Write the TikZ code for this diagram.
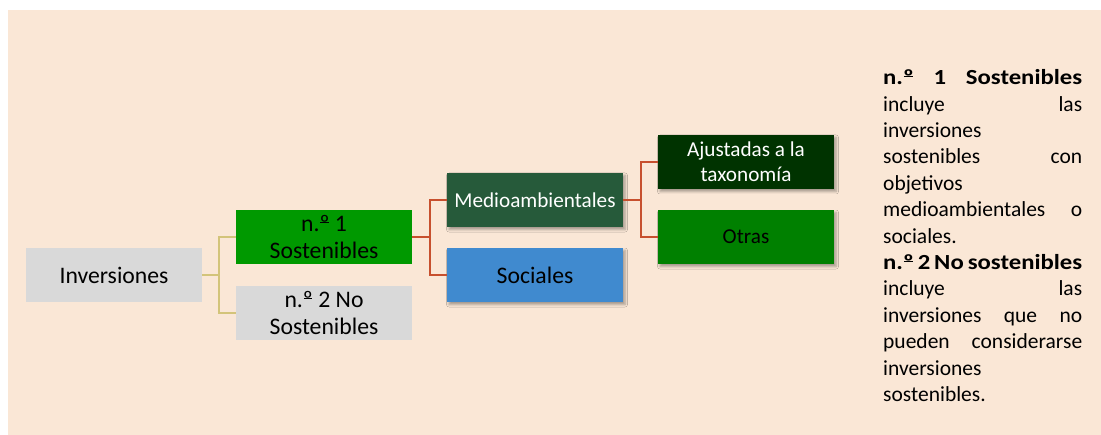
\documentclass[tikz,border=0pt]{standalone}
\usepackage{fontspec}
\setmainfont{Carlito}[BoldFeatures={FakeStretch=1.15}]
\usetikzlibrary{shadows.blur}
\definecolor{bgc}{RGB}{250,231,214}
\definecolor{grayc}{RGB}{217,217,217}
\definecolor{greenA}{RGB}{0,153,0}
\definecolor{greenB}{RGB}{38,90,58}
\definecolor{greenC}{RGB}{0,51,0}
\definecolor{greenD}{RGB}{0,128,0}
\definecolor{blueA}{RGB}{64,138,207}
\definecolor{khaki}{RGB}{211,196,122}
\definecolor{redc}{RGB}{199,80,46}
\newcommand\myordm{\setbox0\hbox{º}\makebox[\wd0][l]{\usebox0\hspace{-\wd0}\hspace{0.04em}\raisebox{0.36em}{\rule{\dimexpr\wd0-0.08em\relax}{0.06em}}}}
\begin{document}
\begin{tikzpicture}[x=1pt,y=-1pt,
  box/.style={rectangle, minimum width=176pt, minimum height=54pt, inner sep=0pt, align=center},
  bigtxt/.style={font=\fontsize{23.7}{26.5}\selectfont},
  smalltxt/.style={font=\fontsize{21.2}{25}\selectfont},
  shad/.style={blur shadow={shadow xshift=2pt, shadow yshift=-2.5pt, shadow blur radius=2.5pt, shadow opacity=35}},
  kline/.style={draw=khaki, line width=1.8pt},
  rline/.style={draw=redc, line width=1.6pt}]
\useasboundingbox (0,0) rectangle (1101,435);
\fill[bgc] (8,10) rectangle (1101,435);
\node[box, bigtxt, fill=grayc] (inv) at (114,275) {Inversiones};
\node[box, bigtxt, fill=greenA] (s1) at (324,237) {n.\myordm{} 1\\Sostenibles};
\node[box, bigtxt, fill=grayc] (s2) at (324,313) {n.\myordm{} 2 No\\Sostenibles};
\node[box, smalltxt, fill=greenB, text=white, shad] (med) at (535,200) {Medioambientales};
\node[box, bigtxt, fill=blueA, shad] (soc) at (535,275) {Sociales};
\node[box, smalltxt, fill=greenC, text=white, shad] (aju) at (746,162) {Ajustadas a la\\taxonomía};
\node[box, smalltxt, fill=greenD, shad] (otr) at (746,237) {Otras};
\draw[kline] (inv.east) -- ++(17,0) |- (s1.west);
\draw[kline] (inv.east) -- ++(17,0) |- (s2.west);
\draw[rline] (s1.east) -- ++(17.5,0) |- (med.west);
\draw[rline] (s1.east) -- ++(17.5,0) |- (soc.west);
\draw[rline] (med.east) -- ++(18,0) |- (aju.west);
\draw[rline] (med.east) -- ++(18,0) |- (otr.west);
\node[anchor=north west, inner sep=0pt, text width=199pt, align=justify, font=\fontsize{21.5}{26.4}\selectfont] (txt) at (883,69.5) {\setlength\parindent{0pt}%
\textbf{n.\myordm{} 1 Sostenibles}\linebreak incluye las\linebreak inversiones\linebreak sostenibles con\linebreak objetivos\linebreak medioambientales o\linebreak sociales.\par
\textbf{n.\myordm{} 2 No sostenibles}\linebreak incluye las\linebreak inversiones que no\linebreak pueden considerarse\linebreak inversiones\linebreak sostenibles.};
\end{tikzpicture}
\end{document}
